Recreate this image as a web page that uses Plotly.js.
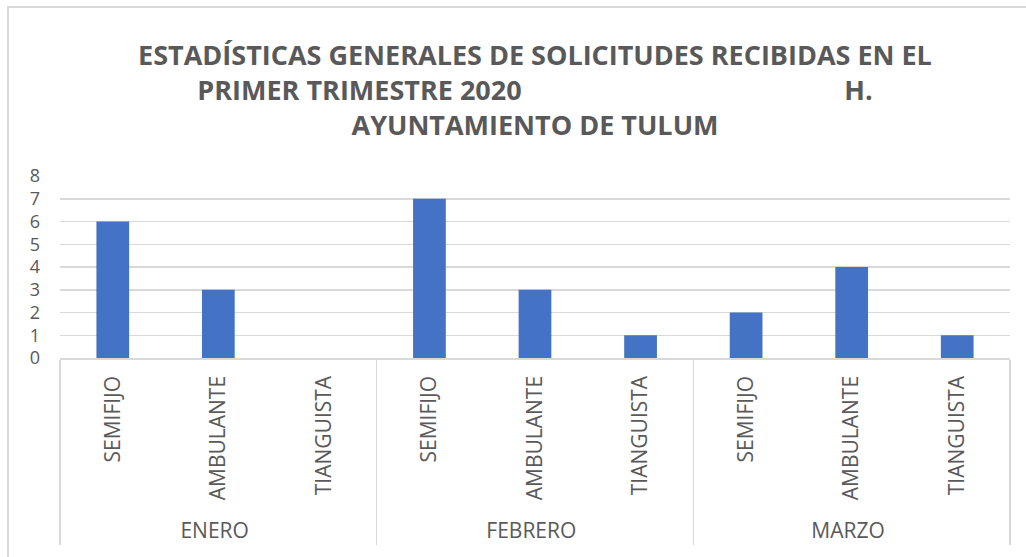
<!DOCTYPE html>
<html><head><meta charset="utf-8">
<script src="https://cdn.plot.ly/plotly-3.0.1.min.js"></script>
<style>
html,body{margin:0;padding:0;background:#fff;overflow:hidden}
#wrap{position:relative;width:1026px;height:557px}
#chart{width:1026px;height:557px}
#frame{position:absolute;left:7px;top:6px;width:1030px;height:560px;border-left:2px solid #d9d9d9;border-top:2px solid #d9d9d9;pointer-events:none}
</style></head>
<body><div id="wrap"><div id="chart"></div><div id="frame"></div></div>
<script>
const months = ["ENERO","ENERO","ENERO","FEBRERO","FEBRERO","FEBRERO","MARZO","MARZO","MARZO"];
const types = ["SEMIFIJO","AMBULANTE","TIANGUISTA","SEMIFIJO","AMBULANTE","TIANGUISTA","SEMIFIJO","AMBULANTE","TIANGUISTA"];
const values = [6,3,0,7,3,1,2,4,1];
const yTicks = [0,1,2,3,4,5,6,7,8];
const titleLines = ["ESTADÍSTICAS GENERALES DE SOLICITUDES RECIBIDAS EN EL",
  "PRIMER TRIMESTRE 2020" + "\u00A0".repeat(46) + "H.",
  "AYUNTAMIENTO DE TULUM"];

const gray = "#595959";
const grid = "#d9d9d9";

Plotly.newPlot("chart", [{
  type: "bar",
  x: [months, types],
  y: values,
  marker: {color: "#4472C4"},
  hoverinfo: "x+y"
}], {
  width: 1026, height: 557,
  margin: {l: 60, r: 16, t: 176, b: 199, pad: 0},
  paper_bgcolor: "#fff", plot_bgcolor: "#fff",
  bargap: 0.69,
  showlegend: false,
  font: {family: "'Open Sans', sans-serif", color: gray},
  title: {
    text: titleLines.join("<br>"),
    font: {family: "'Open Sans', sans-serif", size: 27, weight: 700, color: gray},
    xref: "paper", x: 0.5, xanchor: "center",
    yref: "container", y: 0.884, yanchor: "top"
  },
  xaxis: {
    type: "multicategory",
    tickangle: -90,
    tickfont: {size: 21, color: gray},
    tickprefix: "\u00A0",
    showline: true, linecolor: grid, linewidth: 1.5,
    showgrid: false, ticks: "",
    showdividers: true, dividercolor: grid, dividerwidth: 1.5,
    ticklabelstandoff: 8
  },
  yaxis: {
    range: [0, 8],
    tickvals: yTicks,
    ticktext: yTicks.map(String),
    tickfont: {size: 18, color: gray},
    showgrid: true, gridcolor: grid, gridwidth: 1.5,
    zeroline: false, showline: false, ticks: "",
    ticklabelstandoff: 19
  }
}, {displayModeBar: false, staticPlot: true});
</script></body></html>
